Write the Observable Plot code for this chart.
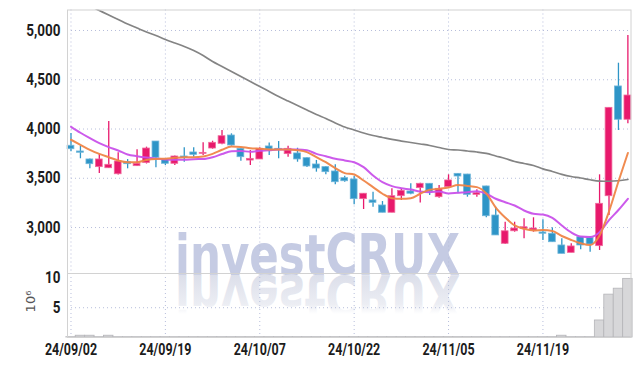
<!DOCTYPE html>
<html><head><meta charset="utf-8">
<script src="https://cdn.jsdelivr.net/npm/d3@7"></script>
<script src="https://cdn.jsdelivr.net/npm/@observablehq/plot@0.6"></script>
<style>
body{margin:0;background:#fff;}
#wrap{position:relative;width:639px;height:366px;overflow:hidden;}
#wm{position:absolute;left:0;top:0;z-index:0;}
#charts{position:absolute;left:0;top:0;z-index:1;}
#charts svg{display:block;}
</style></head><body>
<div id="wrap">
<svg id="wm" width="639" height="366">
<defs><linearGradient id="fade" gradientUnits="userSpaceOnUse" x1="0" y1="275" x2="0" y2="236">
<stop offset="0" stop-color="#dcdfea" stop-opacity="1"/><stop offset="0.75" stop-color="#dcdfea" stop-opacity="0.55"/><stop offset="1" stop-color="#dcdfea" stop-opacity="0"/></linearGradient></defs>
<text x="175" y="275" font-family="'DejaVu Sans',sans-serif" font-weight="bold" font-size="57" fill="#c5cbe3" textLength="285" lengthAdjust="spacingAndGlyphs">investCRUX</text>
<g transform="translate(0,550) scale(1,-1)"><text x="175" y="275" font-family="'DejaVu Sans',sans-serif" font-weight="bold" font-size="57" fill="url(#fade)" textLength="285" lengthAdjust="spacingAndGlyphs">investCRUX</text></g>
</svg>
<div id="charts"></div>
</div>
<script>
const dates = ["24/09/02","24/09/03","24/09/04","24/09/05","24/09/06","24/09/09","24/09/10","24/09/11","24/09/12","24/09/13",
"24/09/19","24/09/20","24/09/23","24/09/24","24/09/25","24/09/26","24/09/27","24/09/30","24/10/02","24/10/04",
"24/10/07","24/10/08","24/10/10","24/10/11","24/10/14","24/10/15","24/10/16","24/10/17","24/10/18","24/10/21",
"24/10/22","24/10/23","24/10/24","24/10/25","24/10/28","24/10/29","24/10/30","24/10/31","24/11/01","24/11/04",
"24/11/05","24/11/06","24/11/07","24/11/08","24/11/11","24/11/12","24/11/13","24/11/14","24/11/15","24/11/18",
"24/11/19","24/11/20","24/11/21","24/11/22","24/11/25","24/11/26","24/11/27","24/11/28","24/11/29","24/12/02"];
const open  = [3830,3772,3691,3613,3602,3541,3663,3623,3655,3873, 3688,3647,3721,3762,3748,3802,3850,3934,3799,3680,
               3691,3823,3799,3745,3752,3704,3640,3613,3569,3501, 3488,3288,3275,3224,3150,3318,3366,3400,3444,3308,
               3410,3545,3538,3332,3417,3122,2835,2962,2987,2970, 2950,2937,2818,2743,2902,2895,2811,3318,4432,4094];
const high  = [3955,3826,3695,3741,4076,3760,3690,3789,3816,3873, 3695,3726,3810,3810,3860,3876,3985,3951,3805,3782,
               3810,3857,3873,3826,3805,3708,3681,3620,3637,3521, 3518,3345,3359,3264,3393,3393,3444,3450,3444,3427,
               3535,3548,3540,3383,3420,3207,3054,3054,3088,3099, 3078,2997,2886,2835,2902,2909,3535,4215,4668,4949];
const low   = [3770,3698,3596,3549,3600,3532,3596,3620,3645,3607, 3630,3630,3663,3714,3731,3795,3840,3826,3673,3630,
               3690,3731,3698,3714,3663,3610,3562,3535,3434,3460, 3231,3183,3207,3150,3150,3275,3332,3250,3325,3298,
               3400,3343,3308,3308,3099,2920,2828,2953,2886,2953, 2868,2851,2733,2743,2774,2750,2767,3122,3985,4053];
const close = [3795,3759,3643,3691,3637,3670,3643,3647,3802,3708, 3647,3721,3708,3738,3758,3860,3927,3833,3714,3697,
               3799,3792,3785,3799,3691,3620,3599,3562,3460,3470, 3288,3343,3251,3150,3318,3373,3343,3444,3359,3393,
               3478,3518,3332,3349,3115,2920,2962,2990,3003,2990, 2937,2851,2733,2808,2818,2828,3241,4215,4094,4340];
const ma5   = [3891,3840,3789,3748,3714,3681,3663,3663,3686,3696, 3698,3708,3714,3714,3721,3748,3789,3823,3818,3805,
               3799,3792,3792,3792,3785,3765,3714,3663,3602,3552, 3538,3477,3410,3343,3298,3292,3298,3343,3383,3393,
               3406,3432,3422,3410,3346,3203,3102,3021,2987,2970, 2975,2965,2914,2874,2841,2823,2919,3163,3467,3757];
const ma20  = [4023,3962,3907,3856,3816,3782,3741,3724,3711,3701, 3691,3688,3688,3694,3696,3714,3746,3775,3777,3769,
               3779,3785,3792,3792,3792,3785,3748,3724,3698,3681, 3663,3613,3528,3460,3420,3399,3386,3366,3359,3366,
               3346,3353,3359,3369,3343,3292,3257,3224,3173,3140, 3132,3097,3021,2950,2909,2904,2953,3075,3178,3292];
const ma60  = [5335,5290,5249,5203,5157,5112,5066,5025,4985,4949, 4909,4873,4838,4797,4746,4685,4635,4584,4533,4482,
               4432,4381,4330,4284,4239,4193,4147,4107,4061,4020, 3990,3960,3934,3914,3894,3878,3863,3848,3833,3812,
               3792,3787,3777,3767,3752,3726,3701,3670,3650,3630, 3595,3569,3540,3518,3503,3485,3472,3470,3475,3488];
const volume = [0.05,0.3,0.3,0.05,0.3,0.05,0.05,0.05,0.05,0.05, 0.05,0.05,0.05,0.05,0.05,0.05,0.05,0.05,0.05,0.05,
                0.05,0.05,0.05,0.05,0.05,0.05,0.05,0.05,0.05,0.05, 0.05,0.05,0.05,0.05,0.05,0.05,0.05,0.05,0.05,0.05,
                0.05,0.05,0.05,0.05,0.05,0.05,0.05,0.05,0.05,0.05, 0.05,0.05,0.3,0.05,0.05,0.05,2.86,7.2,8.2,9.85];
const priceTicks = [3000,3500,4000,4500,5000];
const volTicks = [5,10];
const dateTicks = [0,10,20,30,40,50];

const UP = "#e8196c", UP_EDGE = "#f06a9c", DOWN = "#2e95c7", DOWN_EDGE = "#6fb6da";
const candles = dates.map((d,i)=>({i, date:d, open:open[i], high:high[i], low:low[i], close:close[i], up: close[i] >= open[i]}));
const maRows = (arr) => arr.map((v,i)=>({i, v}));
const xDomain = [-0.37, 59.33];
const font = "font-family:Roboto,sans-serif;font-size:16px;font-weight:bold;color:#1c1c1c;background:transparent;overflow:visible;";
const GRID = "#b7bedb";

const main = Plot.plot({
  width: 639, height: 273,
  marginLeft: 67, marginRight: 8.5, marginTop: 9.5, marginBottom: 0,
  style: font,
  x: {domain: xDomain, axis: null},
  y: {domain: [2533.5, 5208], ticks: priceTicks, tickFormat: d3.format(","), tickSize: 0, tickPadding: 7, label: null},
  color: {type: "identity"},
  marks: [
    Plot.ruleY(priceTicks, {stroke: GRID, strokeDasharray: "1,3"}),
    Plot.ruleX(dateTicks, {stroke: GRID, strokeDasharray: "1,3"}),
    Plot.ruleX(candles, {x: "i", y1: "low", y2: "high", stroke: d => d.up ? UP : DOWN, strokeWidth: 1.3}),
    Plot.rect(candles, {x1: d => d.i - 0.36, x2: d => d.i + 0.36, y1: "open", y2: "close",
      fill: d => d.up ? UP : DOWN, stroke: d => d.up ? UP_EDGE : DOWN_EDGE, strokeWidth: 0.8}),
    Plot.line(maRows(ma60), {x: "i", y: "v", stroke: "#848484", strokeWidth: 1.7, curve: "monotone-x", clip: true}),
    Plot.line(maRows(ma20), {x: "i", y: "v", stroke: "#c951ea", strokeWidth: 2, curve: "monotone-x", strokeOpacity: 0.95}),
    Plot.line(maRows(ma5), {x: "i", y: "v", stroke: "#ef8547", strokeWidth: 2, curve: "monotone-x", strokeOpacity: 0.95}),
    Plot.frame({stroke: "#d2d2d2"})
  ]
});

const vol = Plot.plot({
  width: 639, height: 93,
  marginLeft: 67, marginRight: 8.5, marginTop: 0, marginBottom: 29,
  style: font,
  x: {domain: xDomain, ticks: dateTicks, tickFormat: i => dates[i], tickSize: 0, tickPadding: 6, label: null},
  y: {domain: [0, 10.75], ticks: volTicks, tickFormat: d => String(d), tickSize: 0, tickPadding: 7, label: null},
  marks: [
    Plot.ruleY([5], {stroke: GRID, strokeDasharray: "1,3"}),
    Plot.ruleX(dateTicks, {stroke: GRID, strokeDasharray: "1,3"}),
    Plot.rectY(volume.map((v,i)=>({i, v})), {x1: d => d.i - 0.5, x2: d => d.i + 0.5, y1: 0, y2: "v",
      fill: "#d7d7d9", stroke: "#b4b4b8", strokeWidth: 0.8}),
    Plot.text(["10⁶"], {frameAnchor: "left", dx: -37, dy: -4, rotate: -90, text: d => d, textAnchor: "middle",
      fontFamily: "DejaVu Sans", fontSize: 13, fontWeight: "normal", fill: "#555"}),
    Plot.frame({stroke: "#d2d2d2"})
  ]
});

document.getElementById("charts").append(main, vol);

// condense the axis tick labels to match the narrow typeface of the original
function condense(svg, label, ratio) {
  svg.querySelectorAll(`g[aria-label="${label}"] text`).forEach(t => {
    const len = t.getComputedTextLength();
    t.setAttribute("textLength", (len * ratio).toFixed(1));
    t.setAttribute("lengthAdjust", "spacingAndGlyphs");
  });
}
condense(main, "y-axis tick label", 0.84);
condense(vol, "y-axis tick label", 0.84);
condense(vol, "x-axis tick label", 0.78);
</script>
</body></html>
